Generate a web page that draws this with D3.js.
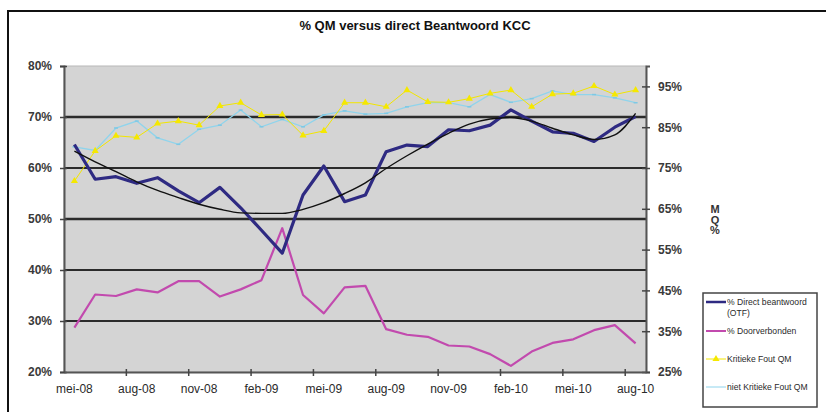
<!DOCTYPE html>
<html>
<head>
<meta charset="utf-8">
<script src="https://cdn.jsdelivr.net/npm/d3@7"></script>
<style>
  body { margin: 0; background: #fff; }
  svg { display: block; font-family: "Liberation Sans", Arial, sans-serif; }
  .tick text { fill: #3a3a3a; font-weight: bold; font-size: 12px; }
  .x-axis .tick text { font-weight: normal; fill: #2a2a2a; font-size: 12px; }
  .legend text { font-size: 8.6px; fill: #2a2a2a; }
</style>
</head>
<body>
<svg id="chart" width="826" height="412"></svg>
<script>
// months on the category axis
const months = ['mei-08','jun-08','jul-08','aug-08','sep-08','okt-08','nov-08','dec-08','jan-09','feb-09',
  'mrt-09','apr-09','mei-09','jun-09','jul-09','aug-09','sep-09','okt-09','nov-09','dec-09',
  'jan-10','feb-10','mrt-10','apr-10','mei-10','jun-10','jul-10','aug-10'];

// left axis (%)
const directBeantwoord = [64.6,57.8,58.3,57.0,58.1,55.5,53.2,56.2,52.2,47.8,43.3,54.7,60.4,53.4,
  54.7,63.2,64.5,64.2,67.5,67.3,68.4,71.4,69.2,67.1,66.8,65.2,68.0,70.1];
const doorverbonden = [28.7,35.2,34.9,36.2,35.6,37.8,37.8,34.8,36.2,38.0,48.2,35.1,31.5,36.6,
  36.9,28.4,27.3,26.9,25.2,25.0,23.5,21.2,24.0,25.7,26.4,28.2,29.2,25.6];
// polynomial trendline of directBeantwoord
const trendDirect = [63.3,61.2,59.3,57.3,55.6,54.2,52.9,51.9,51.2,51.1,51.1,51.9,53.2,55.0,
  57.1,59.9,62.4,64.7,66.8,68.6,69.6,69.9,69.2,67.8,66.5,65.6,66.5,70.7];

// right axis (QM %)
const kritiekeFoutQM = [71.8,79.2,82.9,82.5,85.9,86.5,85.5,90.2,91.0,88.0,88.1,83.0,84.1,91.0,
  91.0,90.0,94.1,91.2,91.1,92.0,93.3,94.1,90.0,93.1,93.3,95.1,93.0,94.1];
const nietKritiekeFoutQM = [80.2,79.3,84.8,86.5,82.4,80.8,84.5,85.5,89.2,85.1,86.9,85.1,88.0,89.0,
  88.2,88.4,90.0,91.0,91.0,90.0,93.0,91.1,92.0,93.9,93.0,93.0,92.2,91.0];

const leftTicks = [20,30,40,50,60,70,80];
const rightTicks = [25,35,45,55,65,75,85,95];
const labelMonths = months.filter((d, i) => i % 3 === 0);
const gridValues = [30,40,50,60,70];

const title = '% QM versus direct Beantwoord KCC';
const rightTitle = ['M','Q','%'];
const legendItems = [
  {label: ['% Direct beantwoord', '(OTF)'], color: '#2e2a82', width: 2.5},
  {label: ['% Doorverbonden'], color: '#c24aae', width: 2},
  {label: ['Kritieke Fout QM'], color: '#f2e600', width: 1, marker: true},
  {label: ['niet Kritieke Fout QM'], color: '#8fd4ec', width: 1}
];

const svg = d3.select('#chart');
const plot = {left: 64, right: 646, top: 66, bottom: 372};

const xScale = d3.scaleBand().domain(months).range([plot.left, plot.right]).padding(0);
const xc = d => xScale(d) + xScale.bandwidth() / 2;
const yLeft = d3.scaleLinear().domain([20, 80]).range([plot.bottom, plot.top]);
const yRight = d3.scaleLinear().domain([25, 100]).range([plot.bottom, plot.top]);

// outer frame (cropped at right and bottom)
svg.append('path')
  .attr('d', 'M8,412 V11 H826')
  .attr('fill', 'none')
  .attr('stroke', '#111')
  .attr('stroke-width', 2);

// title
svg.append('text')
  .attr('x', 415).attr('y', 30)
  .attr('text-anchor', 'middle')
  .style('font-weight', 'bold').style('font-size', '13px').style('fill', '#111')
  .text(title);

// plot area
svg.append('rect')
  .attr('x', plot.left).attr('y', plot.top)
  .attr('width', plot.right - plot.left).attr('height', plot.bottom - plot.top)
  .attr('fill', '#d4d4d4').attr('stroke', '#b8b8b8');

// gridlines
svg.append('g').selectAll('line').data(gridValues).join('line')
  .attr('x1', plot.left).attr('x2', plot.right)
  .attr('y1', d => yLeft(d)).attr('y2', d => yLeft(d))
  .attr('stroke', '#2b2b2b')
  .attr('stroke-width', d => (d === 50 || d === 70) ? 2.5 : 1.8);

// left axis
const yAxisL = d3.axisLeft(yLeft).tickValues(leftTicks).tickFormat(d => d + '%').tickSize(4).tickPadding(8);
const gL = svg.append('g').attr('class', 'axis y-left').attr('transform', `translate(${plot.left},0)`).call(yAxisL);
gL.select('.domain').attr('stroke', '#555').attr('stroke-width', 2);
gL.selectAll('.tick line').attr('x1', -4).attr('x2', 3).attr('stroke', '#444').attr('stroke-width', 1.5);

// right axis
const yAxisR = d3.axisRight(yRight).tickValues(rightTicks).tickFormat(d => d + '%').tickSize(4).tickPadding(8);
const gR = svg.append('g').attr('class', 'axis y-right').attr('transform', `translate(${plot.right},0)`).call(yAxisR);
gR.select('.domain').attr('stroke', '#555').attr('stroke-width', 2);
gR.selectAll('.tick line').attr('x1', -4).attr('x2', 4).attr('stroke', '#444').attr('stroke-width', 1.5);

svg.append('text')
  .attr('x', 715).attr('y', 204)
  .style('font-weight', 'bold').style('font-size', '11px').style('fill', '#333')
  .attr('text-anchor', 'middle')
  .selectAll('tspan').data(rightTitle).join('tspan')
    .attr('x', 715).attr('dy', (d, i) => i === 0 ? 9 : 10.5)
    .text(d => d);

// x axis: labels under every third month, ticks on category boundaries
const xAxis = d3.axisBottom(xScale).tickValues(labelMonths).tickSize(0).tickPadding(12);
const gX = svg.append('g').attr('class', 'axis x-axis').attr('transform', `translate(0,${plot.bottom})`).call(xAxis);
gX.select('.domain').attr('stroke', '#555').attr('stroke-width', 2);
gX.selectAll('.boundary').data(labelMonths.slice(1)).join('line')
  .attr('class', 'boundary')
  .attr('x1', d => xScale(d)).attr('x2', d => xScale(d))
  .attr('y1', -3).attr('y2', 4)
  .attr('stroke', '#444').attr('stroke-width', 1.5);

// series
const lineL = d3.line().x((d, i) => xc(months[i])).y(d => yLeft(d));
const lineR = d3.line().x((d, i) => xc(months[i])).y(d => yRight(d));
const trendLine = d3.line().x((d, i) => xc(months[i])).y(d => yLeft(d)).curve(d3.curveMonotoneX);

svg.append('path').datum(nietKritiekeFoutQM)
  .attr('d', lineR).attr('fill', 'none').attr('stroke', '#8fd4ec').attr('stroke-width', 1.3);
svg.append('g').selectAll('line').data(nietKritiekeFoutQM).join('line')
  .attr('x1', (d, i) => xc(months[i]) - 2).attr('x2', (d, i) => xc(months[i]) + 2)
  .attr('y1', d => yRight(d)).attr('y2', d => yRight(d))
  .attr('stroke', '#7ec8e4').attr('stroke-width', 1.5);

svg.append('path').datum(kritiekeFoutQM)
  .attr('d', lineR).attr('fill', 'none').attr('stroke', '#f2e600').attr('stroke-width', 1);
svg.append('g').selectAll('path').data(kritiekeFoutQM).join('path')
  .attr('transform', (d, i) => `translate(${xc(months[i])},${yRight(d)})`)
  .attr('d', d3.symbol(d3.symbolTriangle, 22))
  .attr('fill', '#f5e800');

svg.append('path').datum(doorverbonden)
  .attr('d', lineL).attr('fill', 'none').attr('stroke', '#c24aae').attr('stroke-width', 2.2)
  .attr('stroke-linejoin', 'round');

svg.append('path').datum(directBeantwoord)
  .attr('d', lineL).attr('fill', 'none').attr('stroke', '#2e2a82').attr('stroke-width', 3.2)
  .attr('stroke-linejoin', 'round');

svg.append('path').datum(trendDirect)
  .attr('d', trendLine).attr('fill', 'none').attr('stroke', '#111').attr('stroke-width', 1.4);

// legend
const legend = svg.append('g').attr('class', 'legend');
legend.append('rect')
  .attr('x', 703).attr('y', 293).attr('width', 114).attr('height', 114)
  .attr('fill', '#fff').attr('stroke', '#444').attr('stroke-width', 1.5);
const legendY = [302, 331, 359, 387];
const items = legend.selectAll('.item').data(legendItems).join('g')
  .attr('class', 'item')
  .attr('transform', (d, i) => `translate(706,${legendY[i]})`);
items.append('line')
  .attr('x1', 0).attr('x2', 20)
  .attr('stroke', d => d.color).attr('stroke-width', d => d.width);
items.filter(d => d.marker).append('path')
  .attr('transform', 'translate(10,0)')
  .attr('d', d3.symbol(d3.symbolTriangle, 22))
  .attr('fill', '#f5e800');
items.append('text')
  .attr('x', 21).attr('y', 3)
  .selectAll('tspan').data(d => d.label).join('tspan')
    .attr('x', 21).attr('dy', (d, i) => i === 0 ? 0 : 10.5)
    .text(d => d);
</script>
</body>
</html>
